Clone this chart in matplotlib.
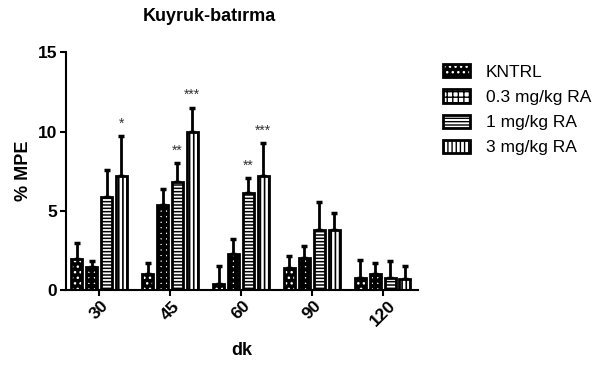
import numpy as np
import matplotlib.pyplot as plt

plt.rcParams['font.family'] = ['Liberation Sans', 'DejaVu Sans']

times = ['30', '45', '60', '90', '120']
groups = ['KNTRL', '0.3 mg/kg RA', '1 mg/kg RA', '3 mg/kg RA']
kntrl = [1.95, 1.0, 0.35, 1.4, 0.75]
kntrl_err = [1.0, 0.7, 1.15, 0.75, 1.15]
ra03 = [1.45, 5.35, 2.25, 2.05, 1.0]
ra03_err = [0.35, 1.0, 0.95, 0.75, 0.7]
ra1 = [5.9, 6.8, 6.15, 3.8, 0.75]
ra1_err = [1.7, 1.2, 0.9, 1.75, 1.05]
ra3 = [7.2, 9.95, 7.2, 3.8, 0.7]
ra3_err = [2.5, 1.55, 2.05, 1.05, 0.8]
stars = {(0, 3): '*', (1, 2): '**', (1, 3): '***', (2, 2): '**', (2, 3): '***'}

means = [kntrl, ra03, ra1, ra3]
errs = [kntrl_err, ra03_err, ra1_err, ra3_err]
styles = [
    dict(face='black', hc='white', hatch='...', hlw=1.0),
    dict(face='white', hc='black', hatch='+++', hlw=3.0),
    dict(face='white', hc='black', hatch='-----', hlw=1.1),
    dict(face='white', hc='black', hatch='||||', hlw=1.2),
]

fig = plt.figure(figsize=(5.98, 3.65), dpi=100)
ax = fig.add_axes([0.110, 0.2055, 0.589, 0.651])

x = np.arange(len(times))
step = 0.21
width = 0.155
handles = []
for i, (m, e, st) in enumerate(zip(means, errs, styles)):
    pos = x + (i - 1.5) * step
    ax.errorbar(pos, m, yerr=[np.zeros(len(m)), e], fmt='none', ecolor='black',
                elinewidth=2, capsize=2.5, capthick=2.5, zorder=1)
    with plt.rc_context({'hatch.linewidth': st['hlw']}):
        ax.bar(pos, m, width, color=st['face'], edgecolor=st['hc'],
               hatch=st['hatch'], linewidth=0, zorder=2)
        h = plt.Rectangle((0, 0), 1, 1, facecolor=st['face'], edgecolor=st['hc'],
                          hatch=st['hatch'], linewidth=0)
    ax.bar(pos, m, width, fill=False, edgecolor='black', linewidth=2, zorder=3)
    for j in range(len(m)):
        if (j, i) in stars:
            ax.text(pos[j], m[j] + e[j] + 0.35, stars[(j, i)], ha='center', va='bottom',
                    fontsize=10, color='#333333')
    h2 = plt.Rectangle((0, 0), 1, 1, fill=False, edgecolor='black', linewidth=2)
    handles.append((h, h2))

ax.set_xlim(-0.47, 4.5)
ax.set_ylim(0, 15)
ax.set_yticks([0, 5, 10, 15])
ax.set_xticks(x)
ax.set_xticklabels(times, rotation=45, fontweight='bold', fontsize=12.5)
for lab in ax.get_yticklabels():
    lab.set_fontweight('bold')
    lab.set_fontsize(12.5)
ax.spines['top'].set_visible(False)
ax.spines['right'].set_visible(False)
ax.spines['left'].set_linewidth(1.5)
ax.spines['bottom'].set_linewidth(1.5)
ax.tick_params(axis='both', width=1.5, length=4, pad=2)
ax.set_ylabel('% MPE', fontweight='bold', fontsize=13, labelpad=4)
ax.set_xlabel('dk', fontweight='bold', fontsize=13, labelpad=9)
fig.text(0.35, 0.955, 'Kuyruk-batırma', ha='center', va='center', fontweight='bold', fontsize=13)

ax.legend(handles, groups, loc='upper left', bbox_to_anchor=(1.05, 0.98), frameon=False,
          fontsize=12.5, handlelength=1.6, handleheight=0.8, labelspacing=0.55,
          handletextpad=0.9, borderaxespad=0)

fig.savefig('out.png', dpi=100)
